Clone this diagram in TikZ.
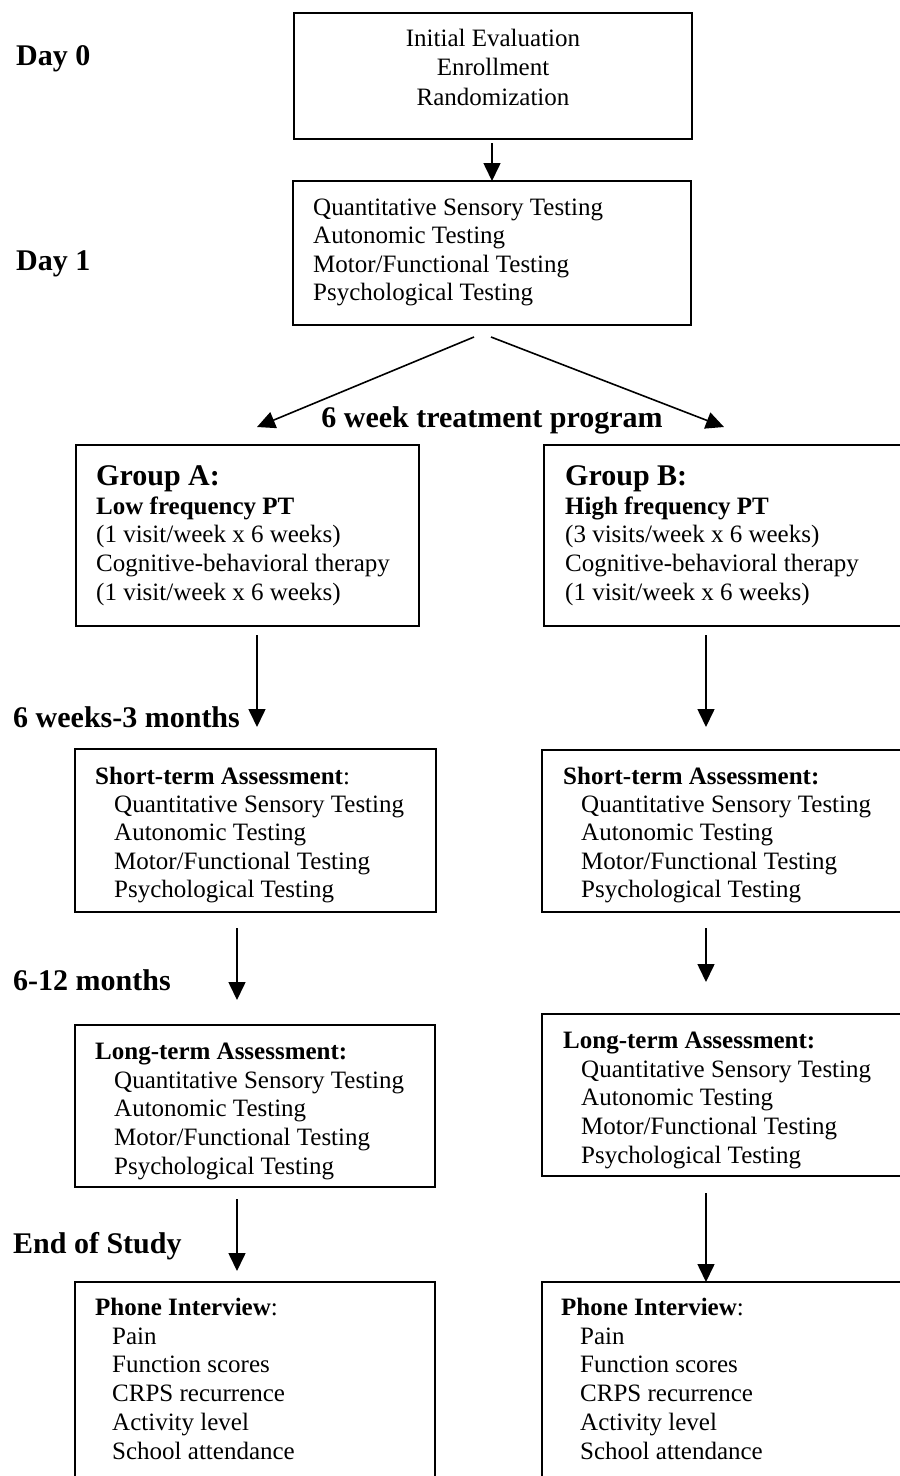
\documentclass[tikz,border=0pt]{standalone}
\usepackage{fontspec}
\setmainfont{Liberation Serif}
\usetikzlibrary{arrows.meta}
\newcommand\tlines[5]{% prefix, x, first baseline, spacing, list
  \foreach \lx [count=\i] in {#5} \node[txt] (#1\i) at (#2,{#3+(\i-1)*#4}) {\lx};}
\begin{document}
\begin{tikzpicture}[x=1pt,y=-1pt,
  box/.style={draw, line width=2.2pt, inner sep=0pt, outer sep=0pt},
  txt/.style={inner sep=0pt, anchor=base west, font=\fontsize{25}{30}\selectfont},
  lbl/.style={inner sep=0pt, anchor=base west, font=\fontsize{30}{36}\selectfont\bfseries},
  arr/.style={line width=1.6pt, -{Triangle[width=17pt,length=18pt]}}]
\useasboundingbox (0,0) rectangle (900,1476);
\clip (0,0) rectangle (900,1476);
\fill[white] (0,0) rectangle (900,1476);

% boxes
\node[box, minimum width=398pt, minimum height=126pt] (b0) at (493,76) {};
\node[box, minimum width=398pt, minimum height=144pt] (b1) at (492,253) {};
\node[box, minimum width=343pt, minimum height=181pt] (gA) at (247.5,535.5) {};
\node[box, minimum width=416pt, minimum height=181pt] (gB) at (752,535.5) {};
\node[box, minimum width=361pt, minimum height=163pt] (sA) at (255.5,830.5) {};
\node[box, minimum width=418pt, minimum height=162pt] (sB) at (751,831) {};
\node[box, minimum width=360pt, minimum height=162pt] (lA) at (255,1106) {};
\node[box, minimum width=418pt, minimum height=162pt] (lB) at (751,1095) {};
\node[box, minimum width=360pt, minimum height=278pt] (pA) at (255,1421) {};
\node[box, minimum width=418pt, minimum height=278pt] (pB) at (751,1421) {};

% side labels
\node[lbl] (d0) at (16,65) {Day 0};
\node[lbl] (d1) at (16,270) {Day 1};
\node[lbl, anchor=base] (prog) at (492,427) {6 week treatment program};
\node[lbl] (w3) at (13,727) {6 weeks-3 months};
\node[lbl] (m12) at (13,990) {6-12 months};
\node[lbl] (eos) at (13,1253) {End of Study};

% box texts
\foreach \lx [count=\i] in {Initial Evaluation, Enrollment, Randomization}
  \node[txt, anchor=base] (b0t\i) at (493,{46+(\i-1)*29.5}) {\lx};
\tlines{b1t}{313}{215}{28.6}{Quantitative Sensory Testing, Autonomic Testing, Motor/Functional Testing, Psychological Testing}

\node[lbl] (gAh) at (96,485) {Group A:};
\tlines{gAt}{96}{514}{28.7}{\textbf{Low frequency PT}, (1 visit/week x 6 weeks), Cognitive-behavioral therapy, (1 visit/week x 6 weeks)}
\node[lbl] (gBh) at (565,485) {Group B:};
\tlines{gBt}{565}{514}{28.7}{\textbf{High frequency PT}, (3 visits/week x 6 weeks), Cognitive-behavioral therapy, (1 visit/week x 6 weeks)}

\node[txt] (sAh) at (95,784) {\textbf{Short-term Assessment}:};
\tlines{sAt}{114}{812}{28.6}{Quantitative Sensory Testing, Autonomic Testing, Motor/Functional Testing, Psychological Testing}
\node[txt] (sBh) at (563,784) {\textbf{Short-term Assessment:}};
\tlines{sBt}{581}{812}{28.6}{Quantitative Sensory Testing, Autonomic Testing, Motor/Functional Testing, Psychological Testing}

\node[txt] (lAh) at (95,1059) {\textbf{Long-term Assessment:}};
\tlines{lAt}{114}{1088}{28.7}{Quantitative Sensory Testing, Autonomic Testing, Motor/Functional Testing, Psychological Testing}
\node[txt] (lBh) at (563,1048) {\textbf{Long-term Assessment:}};
\tlines{lBt}{581}{1077}{28.7}{Quantitative Sensory Testing, Autonomic Testing, Motor/Functional Testing, Psychological Testing}

\node[txt] (pAh) at (95,1315.5) {\textbf{Phone Interview}:};
\tlines{pAt}{112}{1344}{28.8}{Pain, Function scores, CRPS recurrence, Activity level, School attendance}
\node[txt] (pBh) at (561,1315.5) {\textbf{Phone Interview}:};
\tlines{pBt}{580}{1344}{28.8}{Pain, Function scores, CRPS recurrence, Activity level, School attendance}

% connector end points
\coordinate (sl) at (474,337);  \coordinate (el) at (257,427);
\coordinate (sr) at (491,337);  \coordinate (er) at (724,427);
\coordinate (a1s) at (257,635); \coordinate (a1e) at (257,727);
\coordinate (a2s) at (706,635); \coordinate (a2e) at (706,727);
\coordinate (a3s) at (237,928); \coordinate (a3e) at (237,1000);
\coordinate (a4s) at (706,928); \coordinate (a4e) at (706,982);
\coordinate (a5s) at (237,1199); \coordinate (a5e) at (237,1271);
\coordinate (a6s) at (706,1193);

% connectors
\draw[arr, shorten <=4pt] (b1.north |- b0.south) -- (b1.north);
\draw[arr] (sl) -- (el);
\draw[arr] (sr) -- (er);
\draw[arr] (a1s) -- (a1e);
\draw[arr] (a2s) -- (a2e);
\draw[arr] (a3s) -- (a3e);
\draw[arr] (a4s) -- (a4e);
\draw[arr] (a5s) -- (a5e);
\draw[arr] (a6s) -- (a6s |- pB.north);
\end{tikzpicture}
\end{document}
